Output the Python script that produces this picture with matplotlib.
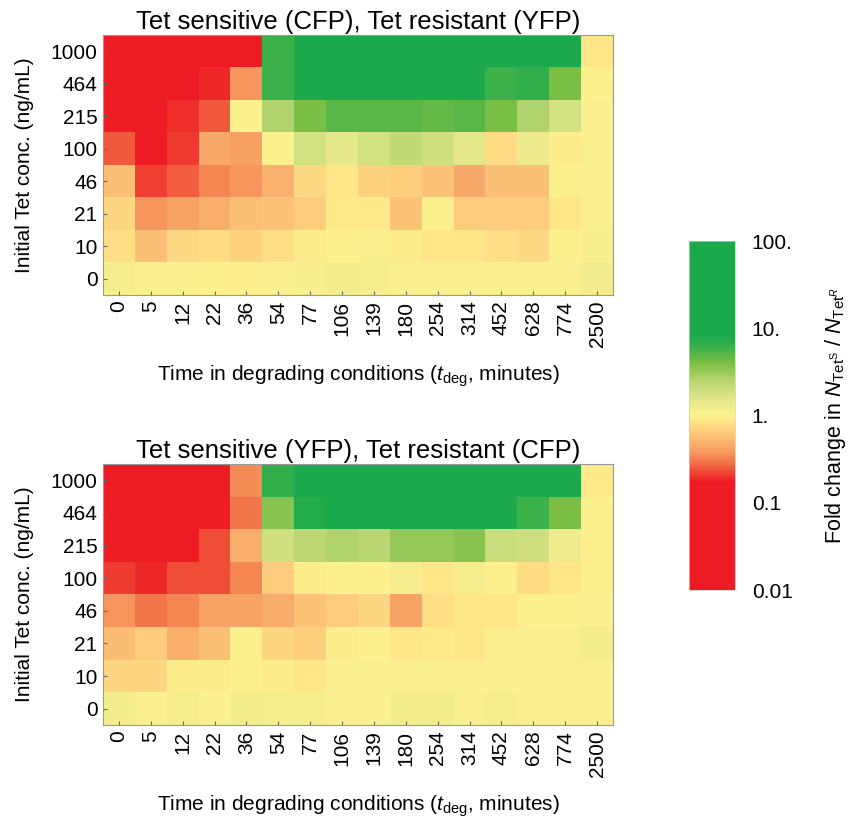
import numpy as np
import matplotlib
matplotlib.use("Agg")
import matplotlib.pyplot as plt
from matplotlib.colors import LinearSegmentedColormap, LogNorm

plt.rcParams['font.family'] = ['Liberation Sans', 'DejaVu Sans']
plt.rcParams['mathtext.fontset'] = 'custom'
plt.rcParams['mathtext.rm'] = 'Liberation Sans'
plt.rcParams['mathtext.it'] = 'Liberation Sans:italic'

times = ["0", "5", "12", "22", "36", "54", "77", "106", "139", "180",
         "254", "314", "452", "628", "774", "2500"]
concs = ["1000", "464", "215", "100", "46", "21", "10", "0"]

titles = ["Tet sensitive (CFP), Tet resistant (YFP)",
          "Tet sensitive (YFP), Tet resistant (CFP)"]

# log10 fold change, rows from 1000 (top) to 0 (bottom)
log_fold_top = [
    [-1.5, -1.5, -1.5, -1.5, -1.5, 0.77, 1.5, 1.5, 1.5, 1.5, 1.5, 1.5, 1.5, 1.5, 1.5, -0.06],
    [-1.5, -1.5, -1.5, -0.72, -0.43, 0.77, 1.5, 1.5, 1.5, 1.5, 1.5, 1.5, 0.77, 0.82, 0.6, 0.0],
    [-1.5, -1.5, -0.71, -0.6, 0.0, 0.42, 0.6, 0.7, 0.7, 0.7, 0.66, 0.7, 0.6, 0.42, 0.25, 0.03],
    [-0.6, -1.2, -0.68, -0.35, -0.4, 0.01, 0.25, 0.17, 0.25, 0.35, 0.28, 0.17, -0.1, 0.12, -0.02, 0.02],
    [-0.25, -0.67, -0.59, -0.47, -0.43, -0.31, -0.11, -0.05, -0.15, -0.16, -0.23, -0.35, -0.25, -0.24, 0.01, 0.02],
    [-0.13, -0.43, -0.38, -0.32, -0.25, -0.22, -0.18, -0.04, -0.04, -0.23, 0.0, -0.18, -0.18, -0.18, -0.06, 0.03],
    [-0.09, -0.25, -0.12, -0.1, -0.15, -0.08, -0.03, 0.01, 0.02, -0.02, -0.05, -0.05, -0.08, -0.11, 0.0, 0.04],
    [0.06, 0.03, 0.02, 0.01, -0.01, 0.03, 0.04, 0.07, 0.05, 0.03, 0.03, 0.03, 0.02, 0.02, 0.02, 0.08],
]

log_fold_bottom = [
    [-1.5, -1.5, -1.5, -1.5, -0.46, 0.82, 1.5, 1.5, 1.5, 1.5, 1.5, 1.5, 1.5, 1.5, 1.5, -0.04],
    [-1.5, -1.5, -1.5, -1.5, -0.52, 0.55, 0.88, 1.5, 1.5, 1.5, 1.5, 1.5, 1.5, 0.77, 0.6, 0.0],
    [-1.5, -1.5, -1.5, -0.64, -0.32, 0.28, 0.36, 0.42, 0.38, 0.5, 0.5, 0.55, 0.3, 0.28, 0.1, 0.0],
    [-0.68, -0.72, -0.64, -0.64, -0.47, -0.18, -0.02, 0.0, 0.0, 0.06, -0.06, 0.06, 0.0, -0.1, -0.05, 0.0],
    [-0.43, -0.52, -0.47, -0.38, -0.38, -0.34, -0.22, -0.18, -0.13, -0.38, -0.08, -0.06, -0.06, 0.01, 0.01, 0.02],
    [-0.26, -0.18, -0.32, -0.25, 0.0, -0.14, -0.17, -0.03, 0.0, -0.06, -0.04, -0.06, 0.02, 0.02, 0.02, 0.07],
    [-0.13, -0.13, -0.02, -0.03, 0.0, -0.02, -0.05, 0.02, 0.02, 0.02, 0.03, 0.02, 0.02, 0.02, 0.02, 0.02],
    [0.07, 0.03, 0.06, 0.02, 0.07, 0.05, 0.06, 0.03, 0.03, 0.07, 0.07, 0.03, 0.05, 0.02, 0.02, 0.02],
]

cbar_ticks = [0.01, 0.1, 1, 10, 100]
cbar_ticklabels = ["0.01", "0.1", "1.", "10.", "100."]

cmap = LinearSegmentedColormap.from_list("rdylgn_custom", [
    (0.00, "#ED1C24"),
    (0.31, "#ED1C24"),
    (0.36, "#F26B44"),
    (0.40, "#F7A064"),
    (0.45, "#FDC87A"),
    (0.50, "#FFF290"),
    (0.55, "#DFE68A"),
    (0.60, "#B6D571"),
    (0.65, "#7DBF46"),
    (0.70, "#35B04A"),
    (0.73, "#1BA94C"),
    (1.00, "#1BA94C"),
])
norm = LogNorm(vmin=0.01, vmax=100)

fig = plt.figure(figsize=(8.49, 8.23), dpi=100)
ax_top = fig.add_axes([0.1213, 0.6416, 0.6007, 0.3159])
ax_bot = fig.add_axes([0.1213, 0.1191, 0.6007, 0.3171])
cax = fig.add_axes([0.8115, 0.2831, 0.0542, 0.4240])

for ax, data, title in [(ax_top, log_fold_top, titles[0]), (ax_bot, log_fold_bottom, titles[1])]:
    vals = 10.0 ** np.array(data)
    im = ax.imshow(vals, cmap=cmap, norm=norm, aspect='auto', interpolation='nearest')
    ax.set_xticks(range(len(times)))
    ax.set_xticklabels(times, rotation=90, fontsize=15)
    ax.set_yticks(range(len(concs)))
    ax.set_yticklabels(concs, fontsize=15)
    ax.tick_params(direction='in', length=3, width=0.8, color='#666666', pad=4)
    for s in ax.spines.values():
        s.set_color('#999999')
        s.set_linewidth(0.8)
    ax.set_title(title, fontsize=18.5, pad=4)
    ax.set_xlabel(r"Time in degrading conditions ($t_{\mathrm{deg}}$, minutes)", fontsize=15, labelpad=12)
    ax.set_ylabel("Initial Tet conc. (ng/mL)", fontsize=15, labelpad=12)

cb = fig.colorbar(im, cax=cax, ticks=cbar_ticks)
cb.set_ticklabels(cbar_ticklabels)
cb.ax.tick_params(length=0, labelsize=15, pad=12)
cb.ax.minorticks_off()
cb.outline.set_linewidth(0.5)
cb.outline.set_edgecolor('#cccccc')
cb.set_label(r"Fold change in $N_{\mathrm{Tet}^{\mathrm{S}}}$ / $N_{\mathrm{Tet}^{R}}$", fontsize=15.5, labelpad=22)

fig.savefig("out.png", dpi=100)
